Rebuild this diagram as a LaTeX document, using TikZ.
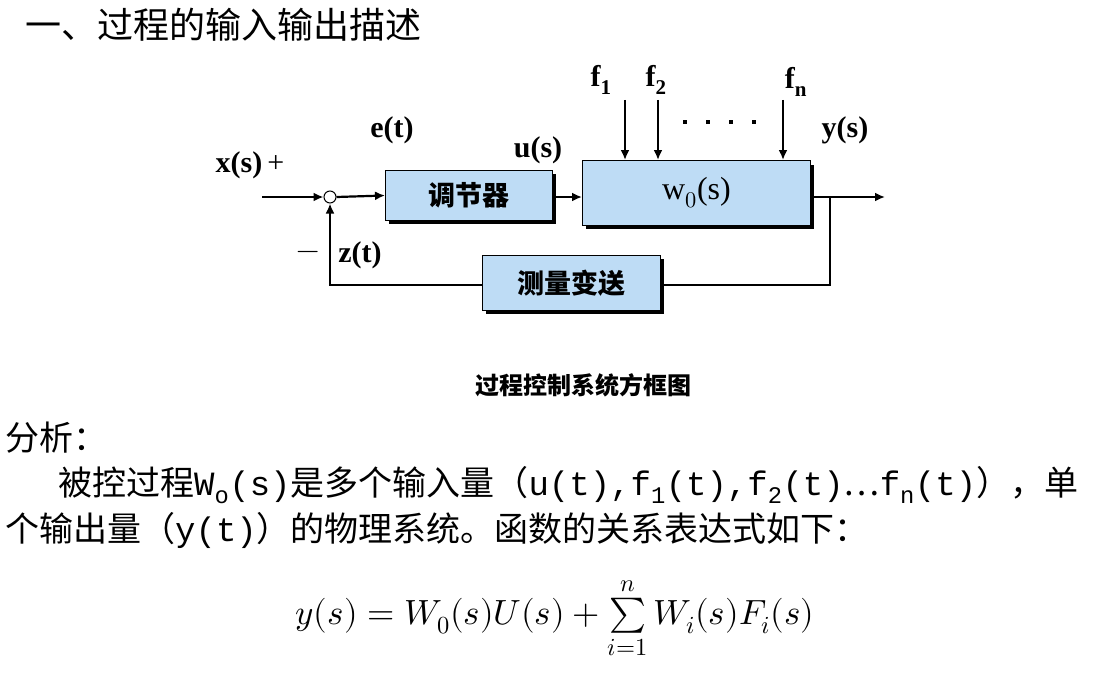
\documentclass[tikz,border=0pt]{standalone}
\usepackage{unicode-math}
\setmainfont{Liberation Serif}
\setmathfont{Latin Modern Math}
\newfontfamily\cjk{Noto Sans CJK SC}
\newfontfamily\mono{Liberation Mono}
\usetikzlibrary{arrows.meta}
\definecolor{boxblue}{RGB}{190,220,245}
\tikzset{
 blk/.style={draw=black,line width=1pt,fill=boxblue,minimum height=#1,anchor=north west,inner sep=0pt},
 sig/.style={line width=2.2pt,-{Latex[length=10pt,width=9pt]}},
 wire/.style={line width=2.2pt},
 lab/.style={font=\fontsize{30}{30}\selectfont\bfseries,inner sep=0pt},
 box/.style={font=\fontsize{27}{27}\selectfont\cjk\bfseries,inner sep=0pt},
 txt/.style={font=\fontsize{34}{34}\selectfont\cjk,anchor=west,inner sep=0pt}
}
\begin{document}
\begin{tikzpicture}[x=1pt,y=-1pt]
\useasboundingbox (0,0) rectangle (1105,674);
\fill (389,174) rectangle (556,224);
\fill (586,165) rectangle (814,229);
\fill (486,259) rectangle (664,314);
\node[blk=50pt,minimum width=167pt] (reg) at (385,170) {};
\node[box] at (reg.center) {调节器};
\node[blk=65pt,minimum width=228pt] (plant) at (582,160) {};
\node[font=\fontsize{32}{32}\selectfont] at (plant.center) {w$_0$(s)};
\node[blk=55pt,minimum width=178pt] (meas) at (482,255) {};
\node[box] at (meas.center) {测量变送};
\node[circle,draw,line width=1pt,minimum size=12pt,inner sep=0pt] (sum) at (330,197) {};
\coordinate (in) at (262,197);
\coordinate (out) at (885,197);
\coordinate (br) at (830,197);
\coordinate (fbr) at (830,285);
\coordinate (fbl) at (330,285);
\draw[sig] (in) -- (sum.west);
\draw[sig] (sum.east) -- (reg.west);
\draw[sig] (reg.east |- sum) -- (plant.west |- sum);
\draw[sig] (plant.east |- sum) -- (out);
\draw[wire] (br) -- (fbr) -- (meas.east |- fbr);
\draw[sig] (meas.west |- fbl) -- (fbl) -- (sum.south);
\foreach \x/\n in {625/a,658/b,783/c}{
 \coordinate (f\n) at (\x,100);
 \draw[sig] (f\n) -- (\x,160);
}
\node[lab] at (250,165) {x(s)\,\normalfont+};
\node[lab] at (392,130) {e(t)};
\node[lab] at (538,150) {u(s)};
\node[lab] at (601,80) {f$_{\mathbf 1}$};
\node[lab] at (656,80) {f$_{\mathbf 2}$};
\node[lab] at (796,82) {f$_{\mathbf n}$};
\foreach \x in {683,706,729,752} \fill (\x,120) rectangle ++(4,4);
\node[lab] at (845,130) {y(s)};
\node[lab,font=\fontsize{30}{30}\selectfont] at (308,255) {$-$};
\node[lab] at (360,255) {z(t)};
\node[font=\fontsize{24}{24}\selectfont\cjk\bfseries] at (583,385) {过程控制系统方框图};
\node[txt,font=\fontsize{36}{36}\selectfont\cjk] at (25,25) {一、过程的输入输出描述};
\node[txt] at (5,438) {分析：};
\node[txt] at (58,485) {被控过程{\mono W\textsubscript{o}(s)}是多个输入量（{\mono u(t),f\textsubscript{1}(t),f\textsubscript{2}(t)}…{\mono f\textsubscript{n}(t)}），单};
\node[txt] at (5,530) {个输出量（{\mono y(t)}）的物理系统。函数的关系表达式如下：};
\node[font=\fontsize{35}{35}\selectfont] at (555,618) {$y(s)=W_0(s)U(s)+\sum\limits_{i=1}^{n}W_i(s)F_i(s)$};
\end{tikzpicture}
\end{document}
